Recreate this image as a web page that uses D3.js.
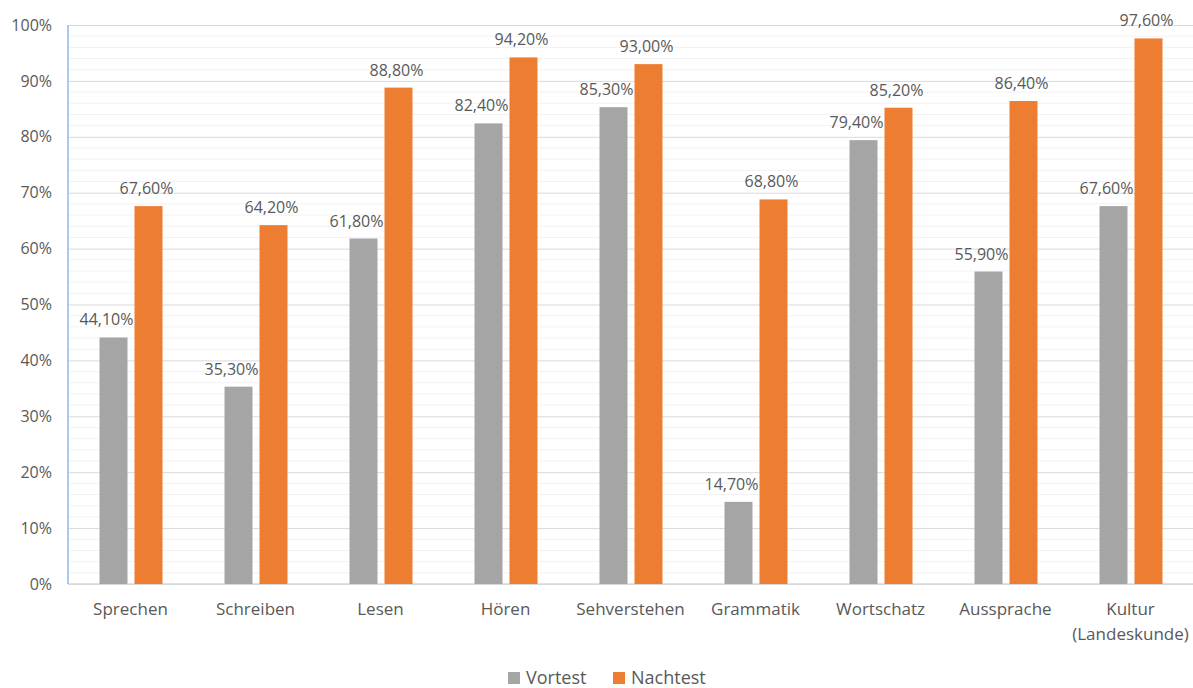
<!DOCTYPE html>
<html>
<head>
<meta charset="utf-8">
<script src="https://cdn.jsdelivr.net/npm/d3@7"></script>
<style>
  body { margin: 0; background: #fff; }
  text { font-family: "Open Sans", sans-serif; fill: #595959; }
</style>
</head>
<body>
<div id="chart"></div>
<script>
var width = 1193;
var height = 688;

var categories = ["Sprechen", "Schreiben", "Lesen", "Hören", "Sehverstehen", "Grammatik", "Wortschatz", "Aussprache", "Kultur\n(Landeskunde)"];
var seriesNames = ["Vortest", "Nachtest"];
var vortest = [44.1, 35.3, 61.8, 82.4, 85.3, 14.7, 79.4, 55.9, 67.6];
var nachtest = [67.6, 64.2, 88.8, 94.2, 93.0, 68.8, 85.2, 86.4, 97.6];
var yTicks = [0, 10, 20, 30, 40, 50, 60, 70, 80, 90, 100];

var colors = {
    "Vortest": "#a5a5a5",
    "Nachtest": "#ed7d31"
};

var plotLeft = 68, plotRight = 1193, plotTop = 25, plotBottom = 584;

var svg = d3.select("#chart").append("svg")
    .attr("width", width)
    .attr("height", height);

var scaleX = d3.scaleBand().domain(categories).range([plotLeft, plotRight]);
var scaleY = d3.scaleLinear().domain([0, 100]).range([plotBottom, plotTop]);
var inner = d3.scaleBand().domain(seriesNames)
    .range([scaleX.bandwidth() / 2 - 31, scaleX.bandwidth() / 2 + 32])
    .paddingInner(0.2);

// minor gridlines every 2%
var minor = d3.range(0, 101, 2).filter(function(v) { return v % 10 != 0; });
svg.selectAll("line.minor").data(minor).enter().append("line")
    .attr("x1", plotLeft).attr("x2", plotRight)
    .attr("y1", function(d) { return scaleY(d); })
    .attr("y2", function(d) { return scaleY(d); })
    .style("stroke", "#f2f2f2").style("stroke-width", 1);

// y axis with major gridlines
var yAxis = d3.axisLeft(scaleY)
    .tickValues(yTicks)
    .tickSize(-(plotRight - plotLeft))
    .tickPadding(16)
    .tickFormat(function(d) { return d + "%"; });

var gy = svg.append("g").attr("transform", "translate(" + plotLeft + ",0)").call(yAxis);
gy.select(".domain").remove();
gy.selectAll(".tick line").style("stroke", "#d9d9d9");
gy.selectAll(".tick text").style("font-size", "16px").style("fill", "#595959")
    .style("font-family", "'Open Sans', sans-serif");

// axis lines
svg.append("line").attr("x1", plotLeft).attr("x2", plotRight)
    .attr("y1", scaleY(0)).attr("y2", scaleY(0))
    .style("stroke", "#d9d9d9").style("stroke-width", 1.5);
svg.append("line").attr("x1", plotLeft).attr("x2", plotLeft)
    .attr("y1", scaleY(100)).attr("y2", scaleY(0))
    .style("stroke", "#8fb8e6").style("stroke-width", 1.5);

// bars
var rows = categories.map(function(c, i) {
    return { cat: c, values: [
        { key: "Vortest", value: vortest[i] },
        { key: "Nachtest", value: nachtest[i] }
    ] };
});

var groups = svg.selectAll("g.cat").data(rows).enter().append("g")
    .attr("class", "cat")
    .attr("transform", function(d) { return "translate(" + scaleX(d.cat) + ",0)"; });

groups.selectAll("rect").data(function(d) { return d.values; }).enter().append("rect")
    .attr("x", function(d) { return inner(d.key); })
    .attr("y", function(d) { return scaleY(d.value); })
    .attr("width", inner.bandwidth())
    .attr("height", function(d) { return scaleY(0) - scaleY(d.value); })
    .style("fill", function(d) { return colors[d.key]; });

function fmt(v) {
    return v.toFixed(2).replace(".", ",") + "%";
}

// value labels: grey ones end just left of the orange bar
groups.selectAll("text.val").data(function(d) { return d.values; }).enter().append("text")
    .attr("class", "val")
    .attr("x", function(d) {
        if (d.key == "Vortest") return inner("Nachtest") - 1;
        return inner(d.key) + inner.bandwidth() / 2 - 2;
    })
    .attr("y", function(d) { return scaleY(d.value) - 12; })
    .attr("text-anchor", function(d) { return d.key == "Vortest" ? "end" : "middle"; })
    .style("font-size", "16px")
    .text(function(d) { return fmt(d.value); });

// category labels
groups.append("text")
    .attr("text-anchor", "middle")
    .style("font-size", "17px")
    .each(function(d) {
        var lines = d.cat.split("\n");
        var t = d3.select(this);
        lines.forEach(function(l, i) {
            t.append("tspan")
                .attr("x", scaleX.bandwidth() / 2)
                .attr("y", 615 + i * 25)
                .text(l);
        });
    });

// legend
var legendItems = [
    { key: "Vortest", x: 508 },
    { key: "Nachtest", x: 613 }
];
var legend = svg.selectAll("g.legend").data(legendItems).enter().append("g")
    .attr("class", "legend")
    .attr("transform", function(d) { return "translate(" + d.x + ",672)"; });
legend.append("rect")
    .attr("width", 12).attr("height", 12)
    .style("fill", function(d) { return colors[d.key]; });
legend.append("text")
    .attr("x", 18).attr("y", 12)
    .style("font-size", "18px")
    .text(function(d) { return d.key; });
</script>
</body>
</html>
